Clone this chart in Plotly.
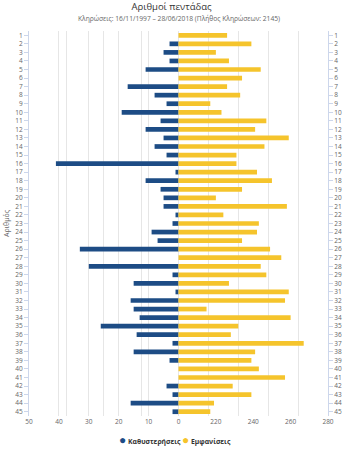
import plotly.graph_objects as go

numbers = list(range(1, 46))
delays = [0, 3, 5, 3, 11, 0, 17, 8, 4, 19,
          6, 11, 5, 8, 4, 41, 1, 11, 6, 5,
          5, 1, 2, 9, 7, 33, 0, 30, 2, 15,
          1, 16, 15, 13, 26, 14, 2, 15, 3, 0,
          0, 4, 2, 16, 2]
appearances = [226, 239, 220, 227, 244, 234, 226, 233, 217, 223,
               247, 241, 259, 246, 231, 231, 242, 250, 234, 220,
               258, 224, 243, 242, 234, 249, 255, 244, 247, 227,
               259, 257, 215, 260, 232, 228, 267, 241, 239, 243,
               257, 229, 239, 219, 217]
app_base = 200
left_ticks = [50, 40, 30, 20, 10, 0]
right_ticks = [220, 240, 260, 280]
series_names = ["Καθυστερήσεις", "Εμφανίσεις"]

BLUE = "#1d4c85"
YELLOW = "#f5c42c"
FONT = "Open Sans"
GRID = "#e6e6e6"
AXIS = "#ccd6eb"
LBL = "#666666"

fig = go.Figure()
fig.add_trace(go.Bar(
    y=numbers, x=delays, base=0, orientation="h", name=series_names[0],
    marker=dict(color=BLUE, line=dict(width=0)), width=0.55,
    xaxis="x", yaxis="y"))
fig.add_trace(go.Bar(
    y=numbers, x=[a - app_base for a in appearances], base=app_base,
    orientation="h", name=series_names[1],
    customdata=appearances, hovertemplate="%{customdata}<extra>Εμφανίσεις</extra>",
    marker=dict(color=YELLOW, line=dict(width=0)), width=0.55,
    xaxis="x2", yaxis="y2"))

tickfont = dict(family=FONT, size=6.5, color=LBL)

# legend drawn as text annotations (circle + label), like the original
L, W = 29, 299
legend_ann = []
for name, color, px in [(series_names[0], BLUE, 117), (series_names[1], YELLOW, 180)]:
    legend_ann.append(dict(
        text=f"<span style='color:{color};font-size:12px'>●</span> <b>{name}</b>",
        xref="paper", yref="paper", x=(px - L) / W, xanchor="left",
        y=-(439 - 415.5) / 385, yanchor="middle", showarrow=False,
        font=dict(family=FONT, size=6.8, color="#333333")))

fig.update_layout(
    width=343, height=450,
    margin=dict(l=29, r=15, t=31, b=34, autoexpand=False),
    paper_bgcolor="white", plot_bgcolor="white",
    barmode="overlay", showlegend=False,
    font=dict(family=FONT),
    title=dict(text="Αριθμοί πεντάδας", x=0.5, xanchor="center",
               y=1 - 7 / 450, yanchor="middle", pad=dict(t=0, b=0),
               font=dict(family=FONT, size=9.5, color="#333333")),
    xaxis=dict(range=[50, -50], domain=[0, 1], tickvals=left_ticks,
               ticktext=[str(t) for t in left_ticks],
               showgrid=True, gridcolor=GRID, gridwidth=1,
               minor=dict(dtick=10, tick0=0, showgrid=True, gridcolor=GRID, gridwidth=1),
               zeroline=False, showline=False, ticks="", automargin=False,
               tickfont=tickfont, fixedrange=True),
    xaxis2=dict(range=[120, 280], overlaying="x", side="bottom", anchor="y",
                tickvals=right_ticks, ticktext=[str(t) for t in right_ticks],
                showgrid=False,
                minor=dict(tickvals=[140, 160, 180], showgrid=True, gridcolor=GRID, gridwidth=1),
                zeroline=False, showline=False, ticks="", automargin=False,
                tickfont=tickfont, fixedrange=True),
    yaxis=dict(range=[45.5, 0.5], tickvals=numbers, ticktext=[str(n) for n in numbers],
               showgrid=False, zeroline=False, showline=True, linecolor=AXIS, linewidth=1,
               ticks="outside", ticklen=4, tickcolor=AXIS, tickfont=tickfont,
               title=dict(text="Αριθμός", font=dict(family=FONT, size=7, color=LBL), standoff=4),
               automargin=False, fixedrange=True),
    yaxis2=dict(range=[45.5, 0.5], overlaying="y", side="right", anchor="x",
                tickvals=numbers, ticktext=[str(n) for n in numbers],
                showgrid=False, zeroline=False, showline=True, linecolor=AXIS, linewidth=1,
                ticks="outside", ticklen=4, tickcolor=AXIS, tickfont=tickfont,
                automargin=False, fixedrange=True),
    annotations=[dict(text="Κληρώσεις: 16/11/1997 – 28/06/2018 (Πλήθος Κληρώσεων: 2145)",
                      xref="paper", yref="paper", x=0.5, xanchor="center",
                      y=1 + (31 - 19) / 385, yanchor="middle", showarrow=False,
                      font=dict(family=FONT, size=6.7, color=LBL))] + legend_ann,
)

fig.write_html("out.html")
